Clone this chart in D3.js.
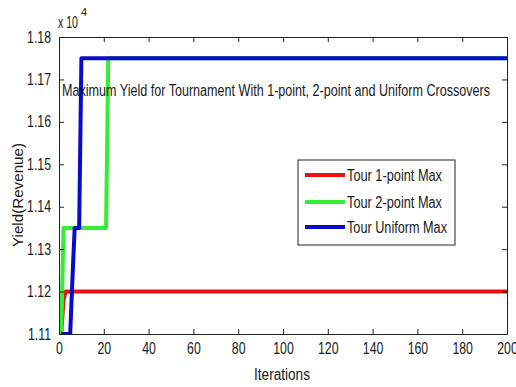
<!DOCTYPE html>
<html>
<head>
<meta charset="utf-8">
<script src="https://cdn.jsdelivr.net/npm/d3@7"></script>
<style>
  body { margin: 0; background: #fff; }
  text { font-family: "Liberation Sans", Arial, sans-serif; fill: #1a1a1a; }
</style>
</head>
<body>
<svg width="516" height="387"></svg>
<script>
// data: step points (iteration, yield)
let redX   = [1, 2, 3, 200];
let redY   = [11100, 11180, 11200, 11200];
let greenX = [1, 2, 21, 22, 200];
let greenY = [11100, 11350, 11350, 11750, 11750];
let blueX  = [1, 5, 6, 7, 9, 10, 200];
let blueY  = [11100, 11100, 11230, 11350, 11350, 11750, 11750];
let seriesNames = ["Tour 1-point Max", "Tour 2-point Max", "Tour Uniform Max"];
let seriesColors = ["#ee1111", "#33ee33", "#0a0acc"];
let xTicks = [0, 20, 40, 60, 80, 100, 120, 140, 160, 180, 200];
let yTicks = [11100, 11200, 11300, 11400, 11500, 11600, 11700, 11800];

let svg = d3.select("svg");
let pLeft = 59, pRight = 507, pTop = 37, pBottom = 334;
let squish = 0.77; // text in the picture is horizontally narrow

let x = d3.scaleLinear().domain([0, 200]).range([pLeft, pRight]);
let y = d3.scaleLinear().domain([11100, 11800]).range([pBottom, pTop]);

// clip so thick lines stay inside the axes
svg.append("clipPath").attr("id", "clip")
  .append("rect")
  .attr("x", pLeft).attr("y", pTop)
  .attr("width", pRight - pLeft).attr("height", pBottom - pTop);

// lines
let series = [[redX, redY], [greenX, greenY], [blueX, blueY]];
let lineGen = d3.line().x(d => x(d[0])).y(d => y(d[1]));
series.forEach((s, i) => {
  let pts = s[0].map((v, j) => [v, s[1][j]]);
  svg.append("path")
    .attr("clip-path", "url(#clip)")
    .attr("d", lineGen(pts))
    .attr("fill", "none")
    .attr("stroke", seriesColors[i])
    .attr("stroke-width", 4)
    .attr("stroke-linejoin", "round");
});

// axes, ticks pointing in, on all four sides
function styleAxis(g) {
  g.select(".domain").attr("stroke", "#222");
  g.selectAll(".tick line").attr("stroke", "#222");
}
svg.append("g")
  .attr("transform", "translate(0," + pBottom + ")")
  .call(d3.axisBottom(x).tickValues(xTicks).tickSizeInner(-5).tickSizeOuter(0).tickPadding(9))
  .call(styleAxis)
  .call(g => g.selectAll("text").attr("font-size", 16).attr("font-family", null)
    .attr("transform", "scale(" + squish + ",1)").attr("x", 0));
svg.append("g")
  .attr("transform", "translate(0," + pTop + ")")
  .call(d3.axisTop(x).tickValues(xTicks).tickSizeInner(-5).tickSizeOuter(0).tickFormat(""))
  .call(styleAxis);
svg.append("g")
  .attr("transform", "translate(" + pLeft + ",0)")
  .call(d3.axisLeft(y).tickValues(yTicks).tickSizeInner(-5).tickSizeOuter(0).tickPadding(8)
    .tickFormat(d => (d / 10000).toFixed(2)))
  .call(styleAxis)
  .call(g => g.selectAll("text").attr("font-size", 16).attr("font-family", null)
    .attr("transform", "scale(" + squish + ",1)").attr("x", -8 / squish));
svg.append("g")
  .attr("transform", "translate(" + pRight + ",0)")
  .call(d3.axisRight(y).tickValues(yTicks).tickSizeInner(-5).tickSizeOuter(0).tickFormat(""))
  .call(styleAxis);

// exponent label
svg.append("text").attr("x", 58).attr("y", 28).attr("font-size", 16)
  .attr("textLength", 20).attr("lengthAdjust", "spacingAndGlyphs").text("x 10");
svg.append("text").attr("x", 81).attr("y", 16).attr("font-size", 11)
  .attr("textLength", 6).attr("lengthAdjust", "spacingAndGlyphs").text("4");

// title inside the plot
svg.append("text").attr("x", 62).attr("y", 96).attr("font-size", 16)
  .attr("textLength", 428).attr("lengthAdjust", "spacingAndGlyphs")
  .text("Maximum Yield for Tournament With 1-point, 2-point and Uniform Crossovers");

// axis labels
svg.append("text").attr("x", 282).attr("y", 380).attr("font-size", 16)
  .attr("text-anchor", "middle")
  .attr("textLength", 56).attr("lengthAdjust", "spacingAndGlyphs").text("Iterations");
svg.append("text").attr("transform", "translate(23,195) rotate(-90)").attr("font-size", 15)
  .attr("text-anchor", "middle")
  .attr("textLength", 104).attr("lengthAdjust", "spacingAndGlyphs").text("Yield(Revenue)");

// legend
let legend = svg.append("g");
legend.append("rect").attr("x", 298).attr("y", 160).attr("width", 157).attr("height", 85)
  .attr("fill", "#fff").attr("stroke", "#222");
let legendY = [175, 202, 227];
let legendW = [95, 95, 100];
seriesNames.forEach((n, i) => {
  legend.append("line").attr("x1", 305).attr("x2", 345)
    .attr("y1", legendY[i]).attr("y2", legendY[i])
    .attr("stroke", seriesColors[i]).attr("stroke-width", 4);
  legend.append("text").attr("x", 347).attr("y", legendY[i] + 6).attr("font-size", 16)
    .attr("textLength", legendW[i]).attr("lengthAdjust", "spacingAndGlyphs").text(n);
});
</script>
</body>
</html>
